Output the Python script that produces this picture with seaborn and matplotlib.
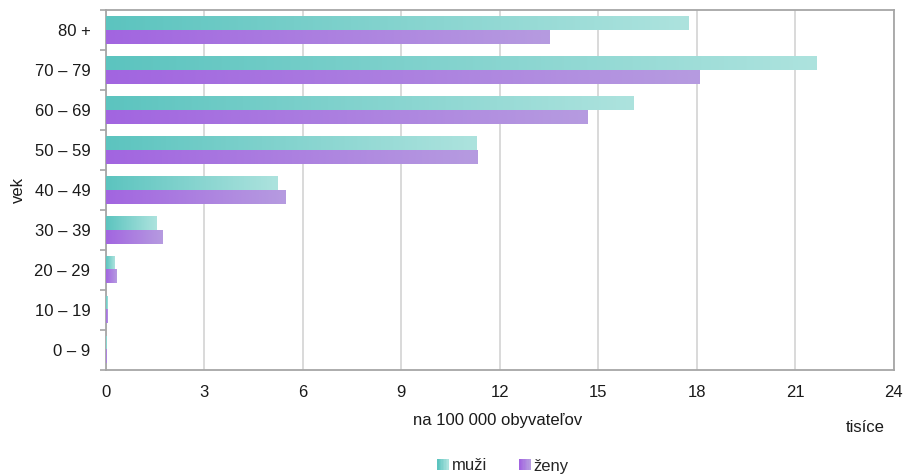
import numpy as np
import pandas as pd
import matplotlib
matplotlib.use("Agg")
import matplotlib.pyplot as plt
import seaborn as sns
from matplotlib.colors import LinearSegmentedColormap
from matplotlib.legend_handler import HandlerPatch
from matplotlib.patches import Patch, Rectangle

# ---- data ----
age_groups = ["80 +", "70 – 79", "60 – 69", "50 – 59", "40 – 49",
              "30 – 39", "20 – 29", "10 – 19", "0 – 9"]
men = [17.75, 21.65, 16.07, 11.27, 5.21, 1.53, 0.25, 0.04, 0.01]
women = [13.52, 18.08, 14.67, 11.30, 5.46, 1.71, 0.31, 0.04, 0.03]
series_names = ["muži", "ženy"]
x_ticks = [0, 3, 6, 9, 12, 15, 18, 21, 24]

grad = {
    "muži": ("#5cc4bf", "#ade3de"),
    "ženy": ("#a265e0", "#b69be0"),
}

df = pd.DataFrame({
    "vek": age_groups * 2,
    "value": men + women,
    "pohlavie": [series_names[0]] * len(men) + [series_names[1]] * len(women),
})

sns.set_style("white")
plt.rcParams["font.family"] = ["Liberation Sans", "DejaVu Sans"]

fig = plt.figure(figsize=(9.05, 4.76), dpi=100)
ax = fig.add_axes([105.7 / 905, 1 - 369.7 / 476, (893.7 - 105.7) / 905, (369.7 - 10.3) / 476])

palette = {k: v[0] for k, v in grad.items()}
sns.barplot(data=df, y="vek", x="value", hue="pohlavie", order=age_groups,
            hue_order=series_names, palette=palette, orient="h",
            width=0.68, dodge=True, ax=ax, legend=False, saturation=1,
            linewidth=0, zorder=2)

# gradient fills per bar
n = len(age_groups)
bars = [p for p in ax.patches if isinstance(p, Rectangle)]
for i, p in enumerate(bars):
    name = series_names[i // n]
    cmap = LinearSegmentedColormap.from_list(name, grad[name])
    x0, y0 = p.get_x(), p.get_y()
    w, h = p.get_width(), p.get_height()
    if w <= 0:
        continue
    img = np.linspace(0, 1, 256).reshape(1, -1)
    ax.imshow(img, cmap=cmap, extent=[x0, x0 + w, y0 + h, y0],
              aspect="auto", zorder=3, interpolation="bicubic")
    p.set_facecolor("none")

ax.set_xlim(0, 24)
ax.set_ylim(n - 0.5, -0.5)
ax.set_xticks(x_ticks)
ax.set_xticklabels([str(t) for t in x_ticks])
ax.set_xlabel("")
ax.set_ylabel("")

ax.grid(axis="x", color="#d9d9d9", linewidth=1.4, zorder=0)
ax.grid(axis="y", visible=False)
ax.set_axisbelow(True)
for s in ax.spines.values():
    s.set_color("#a6a6a6")
    s.set_linewidth(1.3)
    s.set_visible(True)

ax.tick_params(axis="x", length=0, pad=11, labelsize=12, labelcolor="#1a1a1a")
ax.tick_params(axis="y", which="major", length=0, pad=11, labelsize=12, labelcolor="#1a1a1a")
ax.set_yticks(np.arange(-0.5, n, 1.0), minor=True)
ax.tick_params(axis="y", which="minor", length=4, width=1.2, color="#a6a6a6", left=True)

fig.text(498 / 905, 1 - 421 / 476, "na 100 000 obyvateľov", ha="center", va="center",
         fontsize=12, color="#1a1a1a")
fig.text(865 / 905, 1 - 428 / 476, "tisíce", ha="center", va="center",
         fontsize=12, color="#1a1a1a")
fig.text(18 / 905, 1 - 190 / 476, "vek", ha="center", va="center", rotation=90,
         fontsize=12, color="#1a1a1a")


class GradHandler(HandlerPatch):
    def create_artists(self, legend, orig_handle, xdescent, ydescent,
                       width, height, fontsize, trans):
        c0, c1 = grad[orig_handle.get_label()]
        cmap = LinearSegmentedColormap.from_list("h", (c0, c1))
        k = 8
        arts = []
        for j in range(k):
            r = Rectangle((-xdescent + j * width / k, -ydescent), width / k + 0.3, height,
                          facecolor=cmap(j / (k - 1)), edgecolor="none", transform=trans)
            arts.append(r)
        return arts


handles = [Patch(label=s) for s in series_names]
fig.legend(handles=handles, labels=series_names, loc="center",
           bbox_to_anchor=(503 / 905, 1 - 466 / 476), ncol=2, frameon=False,
           handlelength=0.65, handleheight=0.65, handletextpad=0.2,
           columnspacing=1.95, fontsize=12,
           handler_map={Patch: GradHandler()})

fig.savefig("out.png", dpi=100)
